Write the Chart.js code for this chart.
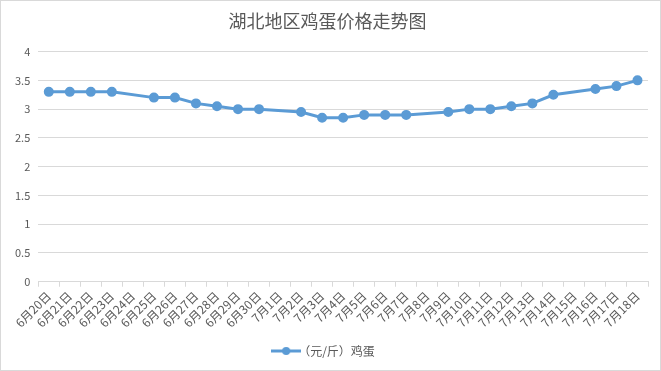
<!DOCTYPE html>
<html>
<head>
<meta charset="utf-8">
<script src="https://cdn.jsdelivr.net/npm/chart.js@4"></script>
<style>
  html, body { margin: 0; padding: 0; background: #fff; }
  #wrap { width: 661px; height: 371px; box-sizing: border-box; border: 1px solid #d9d9d9; }
</style>
</head>
<body>
<div id="wrap"><canvas id="myChart" width="659" height="369"></canvas></div>
<script>
const labels = ['6月20日', '6月21日', '6月22日', '6月23日', '6月24日', '6月25日', '6月26日', '6月27日',
  '6月28日', '6月29日', '6月30日', '7月1日', '7月2日', '7月3日', '7月4日', '7月5日', '7月6日',
  '7月7日', '7月8日', '7月9日', '7月10日', '7月11日', '7月12日', '7月13日', '7月14日', '7月15日',
  '7月16日', '7月17日', '7月18日'];
// null = no price that day, the line just runs across
const prices = [3.3, 3.3, 3.3, 3.3, null, 3.2, 3.2, 3.1, 3.05, 3.0, 3.0, null, 2.95, 2.85, 2.85,
  2.9, 2.9, 2.9, null, 2.95, 3.0, 3.0, 3.05, 3.1, 3.25, null, 3.35, 3.4, 3.5];

const blue = '#5b9bd5';
const grey = '#595959';
const font = '"Noto Sans CJK SC", "Microsoft YaHei", sans-serif';

// legend marker: line with a dot in the middle
const marker = document.createElement('canvas');
marker.width = 30;
marker.height = 10;
const mc = marker.getContext('2d');
mc.strokeStyle = blue;
mc.lineWidth = 3;
mc.beginPath();
mc.moveTo(0, 5);
mc.lineTo(30, 5);
mc.stroke();
mc.fillStyle = blue;
mc.beginPath();
mc.arc(15, 5, 4, 0, Math.PI * 2);
mc.fill();

const data = {
  labels: labels,
  datasets: [{
    label: '（元/斤）鸡蛋',
    data: prices,
    borderColor: blue,
    backgroundColor: blue,
    borderWidth: 3,
    pointRadius: 3.5,
    pointBackgroundColor: blue,
    pointBorderColor: blue,
    spanGaps: true,
    tension: 0
  }]
};

const config = {
  type: 'line',
  data: data,
  options: {
    responsive: false,
    animation: false,
    layout: { padding: { left: 6, right: 12, top: 0, bottom: 3 } },
    plugins: {
      title: {
        display: true,
        text: '湖北地区鸡蛋价格走势图',
        color: grey,
        font: { family: font, size: 18, weight: 'normal' },
        padding: { top: 9, bottom: 20 }
      },
      legend: {
        position: 'bottom',
        labels: {
          color: grey,
          font: { family: font, size: 12 },
          usePointStyle: true,
          padding: 13,
          generateLabels: (chart) => [{
            text: chart.data.datasets[0].label,
            pointStyle: marker,
            fontColor: grey,
            datasetIndex: 0
          }]
        }
      },
      tooltip: { enabled: false }
    },
    scales: {
      x: {
        offset: true,
        grid: {
          display: true,
          offset: true,
          drawOnChartArea: false,
          color: '#d9d9d9',
          tickLength: 5
        },
        border: { color: '#d9d9d9' },
        ticks: {
          color: grey,
          font: { family: font, size: 12 },
          maxRotation: 45,
          minRotation: 45,
          autoSkip: false,
          padding: 2
        }
      },
      y: {
        min: 0,
        max: 4,
        ticks: {
          stepSize: 0.5,
          color: grey,
          font: { family: font, size: 11 },
          padding: 8,
          callback: (v) => String(v)
        },
        grid: { color: '#d9d9d9', drawTicks: false },
        border: { display: false }
      }
    }
  }
};

const myChart = new Chart(document.getElementById('myChart'), config);
</script>
</body>
</html>
